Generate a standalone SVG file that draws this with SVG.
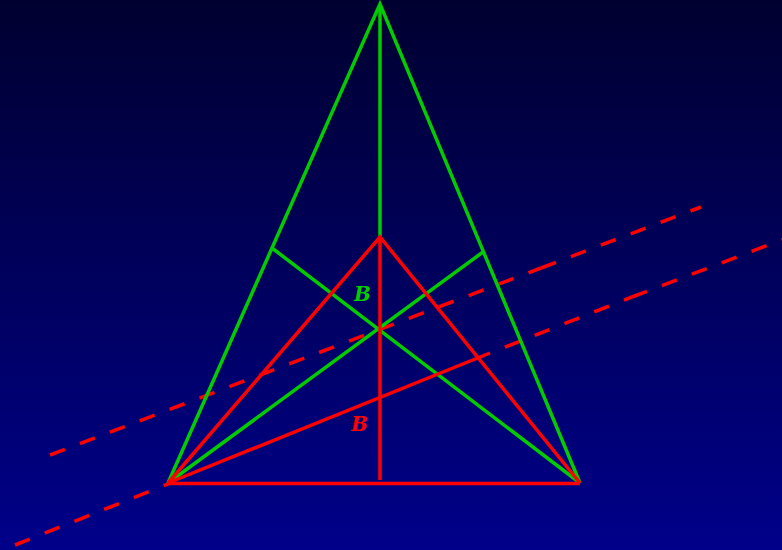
<svg xmlns="http://www.w3.org/2000/svg" width="782" height="550" viewBox="0 0 782 550">
<defs>
<linearGradient id="bg" x1="0" y1="0" x2="0" y2="1">
<stop offset="0" stop-color="#000030"/>
<stop offset="1" stop-color="#00008a"/>
</linearGradient>
<style>
.g{stroke:#00cc00;stroke-width:3.5;fill:none;stroke-linecap:butt}
.r{stroke:#ff0000;stroke-width:3.5;fill:none}
.d{stroke:#ff0000;stroke-width:3.5;fill:none;stroke-dasharray:16 16}
.lbl{font-family:"DejaVu Serif","Liberation Serif",serif;font-weight:bold;font-style:italic;font-size:20px}
</style>
</defs>
<rect x="0" y="0" width="782" height="550" fill="url(#bg)"/>
<g id="dashed">
<path class="d" d="M50,455 L541,268"/>
<path class="d" d="M541,268 L701,207"/>
<path class="d" d="M15,545 L168,484"/>
<path class="d" d="M490,353 L632,297" stroke-dashoffset="16"/>
<path class="d" d="M632,297 L800,233"/>
</g>
<g id="green">
<path class="g" d="M168,483 L380,4 L580,483"/>
<path class="g" d="M380,4 L380,236"/>
<path class="g" d="M272,248 L580,483"/>
<path class="g" d="M483,252 L168,483"/>
</g>
<g id="red">
<path class="r" d="M168,483 L380,237 L580,483"/>
<path class="r" d="M380,237 L380,480"/>
<path class="r" d="M168,483 L490,353"/>
<path class="r" d="M168,483.5 L580,483.5" stroke-width="4"/>
</g>
<text class="lbl" x="354" y="301" fill="#00cc00">B</text>
<text class="lbl" x="351" y="431" fill="#ff0000">B</text>
</svg>
